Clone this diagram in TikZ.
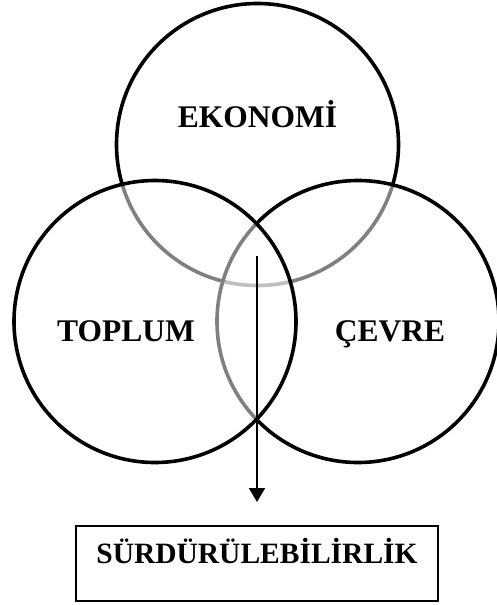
\documentclass[tikz,border=0pt]{standalone}
\usepackage{fontspec}
\setmainfont{Liberation Serif}
\usetikzlibrary{arrows.meta}
\tikzset{
  ring/.style={circle, draw, line width=3.6pt, minimum size=282pt, inner sep=0pt, fill=white, fill opacity=0.5},
  word/.style={font=\fontsize{31.5}{36}\selectfont\bfseries, anchor=base},
}
\begin{document}
\begin{tikzpicture}[x=1pt,y=-1pt]
      \useasboundingbox (0,0) rectangle (496,605);
      \node[ring, fill=none] (eko) at (257.5,144.5) {};
      \node[ring] (cev) at (358,321.5) {};
      \node[ring] (top) at (155,321.5) {};
      \node[word] (ekotext) at (257.5,127) {EKONOMİ};
      \node[word] (toptext) at (126,341) {TOPLUM};
      \node[word] (cevtext) at (390,341) {ÇEVRE};
      \node[draw, line width=1.8pt, minimum width=362pt, text height=38pt, text depth=37pt, inner ysep=0pt, anchor=north, font=\fontsize{29.5}{34}\selectfont\bfseries] (sur) at (257,525) {SÜRDÜRÜLEBİLİRLİK};
      \coordinate (start) at (257,256);
      \draw[line width=2pt, -{Triangle[width=16pt,length=14pt]}, shorten >=23pt] (start) -- (sur.north);
    \end{tikzpicture}
\end{document}
